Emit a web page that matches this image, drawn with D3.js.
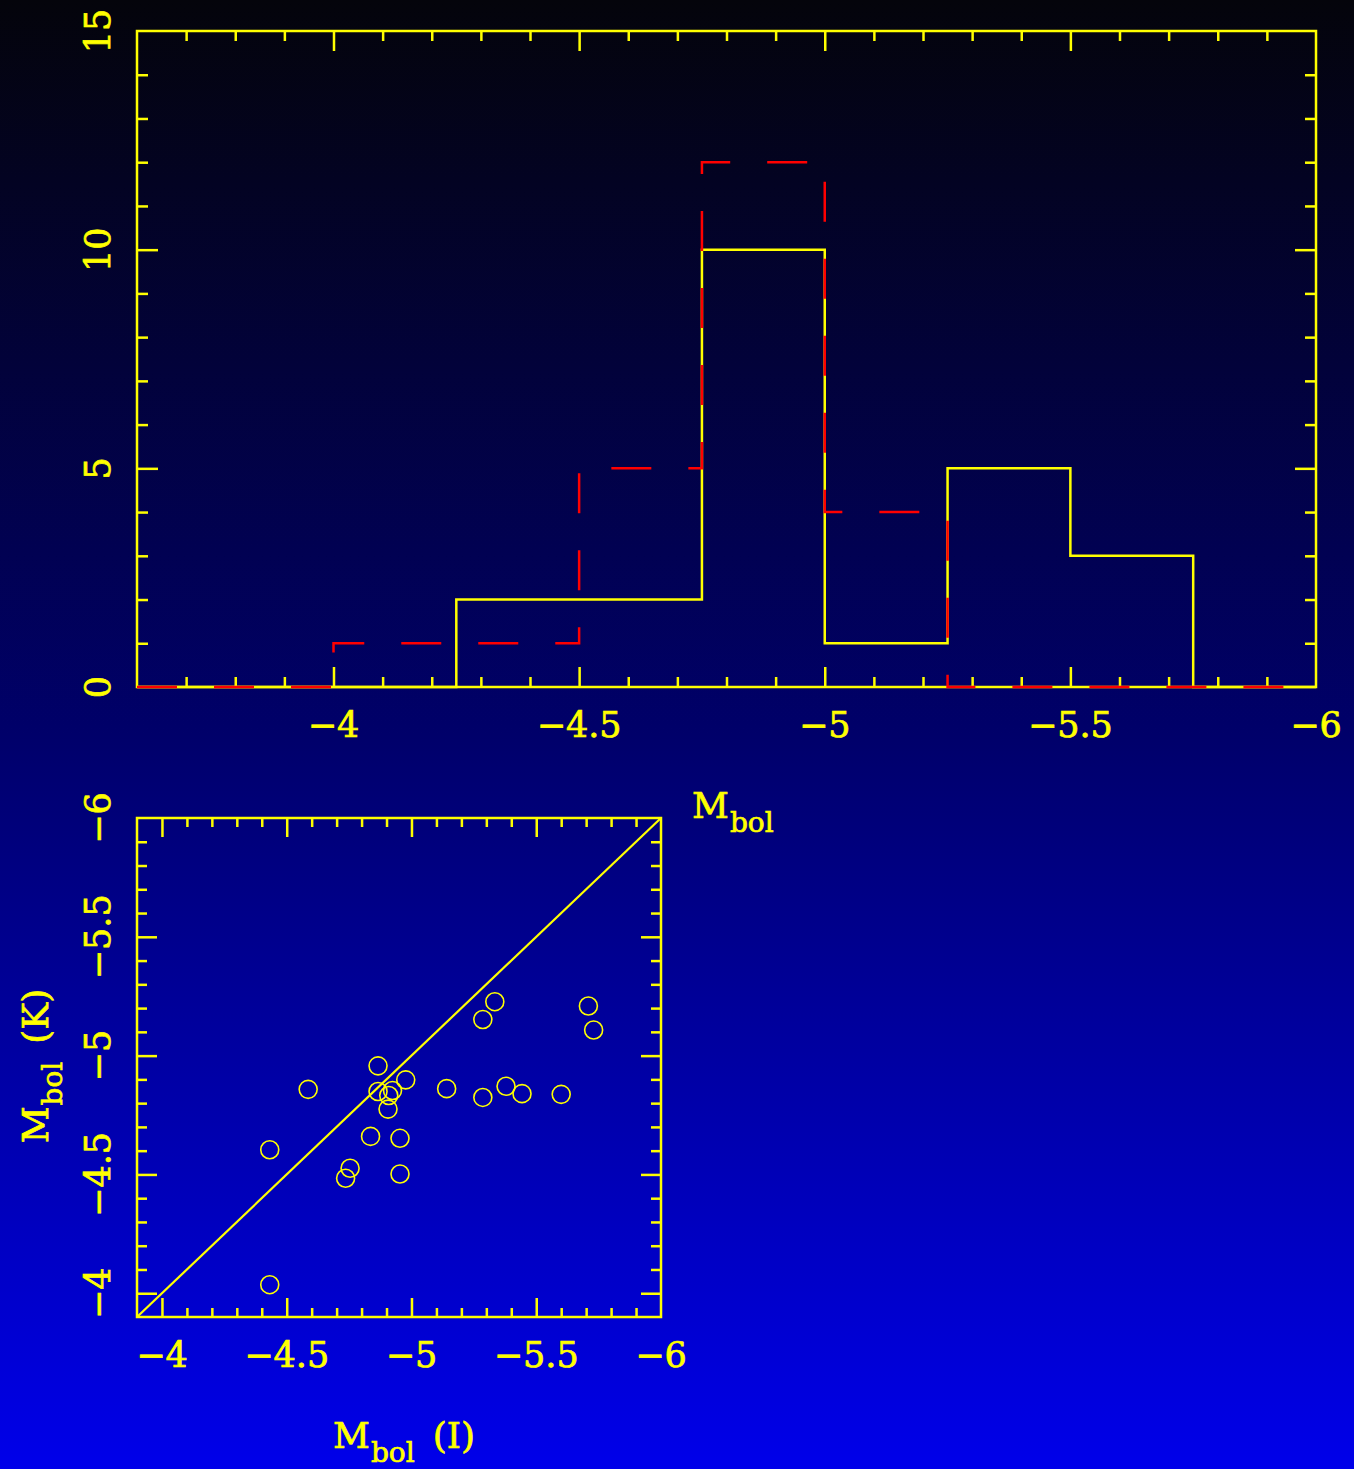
<!DOCTYPE html>
<html>
<head>
<meta charset="utf-8">
<script src="https://cdn.jsdelivr.net/npm/d3@7"></script>
<style>
  html, body { margin: 0; padding: 0; background: #000; }
  svg { display: block; }
  text { font-family: "DejaVu Serif", "Liberation Serif", serif; fill: #ffff00; stroke: #ffff00; stroke-width: 0.7px; }
</style>
</head>
<body>
<svg id="chart" width="1354" height="1469"></svg>
<script>
// Histogram bins (lower edges, width 0.25 mag) of bolometric magnitude
const binLow = [-3.5, -3.75, -4.0, -4.25, -4.5, -4.75, -5.0, -5.25, -5.5, -5.75];
const binWidth = -0.25;
const countsI = [0, 0, 0, 2, 2, 10, 1, 5, 3, 0];   // from I band (solid)
const countsK = [0, 0, 1, 1, 5, 12, 4, 0, 0, 0];   // from K band (dashed)

// Per-star bolometric magnitudes: I-band estimate vs K-band estimate
const mbolI = [-5.334, -5.709, -5.286, -5.730, -4.866, -4.977, -4.586, -5.141,
               -4.866, -4.924, -4.909, -5.286, -5.379, -5.443, -5.600, -4.906,
               -4.836, -4.954, -4.432, -4.754, -4.736, -4.954, -4.432];
const mbolK = [-5.227, -5.209, -5.152, -5.108, -4.957, -4.898, -4.858, -4.861,
               -4.849, -4.853, -4.832, -4.824, -4.871, -4.840, -4.837, -4.775,
               -4.660, -4.652, -4.604, -4.526, -4.484, -4.502, -4.036];

// Axis ranges and tick labels
const histXDomain = [-3.6, -6.0];
const histYDomain = [0, 15];
const histXLabels = [-4, -4.5, -5, -5.5, -6];
const histYLabels = [0, 5, 10, 15];
const scatDomain = [-3.9, -6.0];
const scatLabels = [-4, -4.5, -5, -5.5, -6];

const YEL = "#ffff00", RED = "#ff0000";
const svg = d3.select("#chart");

// background: dark at the top fading to bright blue at the bottom
const defs = svg.append("defs");
const grad = defs.append("linearGradient").attr("id", "bg")
  .attr("x1", 0).attr("y1", 0).attr("x2", 0).attr("y2", 1);
grad.append("stop").attr("offset", "0%").attr("stop-color", "#04040b");
grad.append("stop").attr("offset", "50%").attr("stop-color", "#00006a");
grad.append("stop").attr("offset", "100%").attr("stop-color", "#0000ea");
svg.append("rect").attr("width", 1354).attr("height", 1469).attr("fill", "url(#bg)");

const fmt = d => (d < 0 ? "\u2212" : "") + Math.abs(d);
const isMajor = (d, step) => Math.abs(d / step - Math.round(d / step)) < 1e-6;

function drawTicks(g, axisFn, scale, values, size, pos) {
  const a = g.append("g").attr("transform", pos)
    .call(axisFn(scale).tickValues(values).tickSize(-size).tickFormat(""));
  a.select(".domain").remove();
  a.selectAll("line").attr("stroke", YEL).attr("stroke-width", 2.5);
}

function frameWithTicks(x, y, xStep, xMajorStep, yStep, yMajorStep, lens) {
  const g = svg.append("g");
  const [x0, x1] = x.range(), [y0, y1] = y.range();
  const xd = x.domain(), yd = y.domain();
  const xs = d3.range(Math.round(xd[0] / xStep), Math.round(xd[1] / xStep) + Math.sign(xd[1] - xd[0]), Math.sign(xd[1] - xd[0]))
    .map(i => +(i * xStep).toFixed(4))
    .filter(v => (v - xd[0]) * (v - xd[1]) < -1e-9);
  const ys = d3.range(Math.round(yd[0] / yStep), Math.round(yd[1] / yStep) + Math.sign(yd[1] - yd[0]), Math.sign(yd[1] - yd[0]))
    .map(i => +(i * yStep).toFixed(4))
    .filter(v => (v - yd[0]) * (v - yd[1]) < -1e-9);
  const xMin = xs.filter(v => !isMajor(v, xMajorStep)), xMaj = xs.filter(v => isMajor(v, xMajorStep));
  const yMin = ys.filter(v => !isMajor(v, yMajorStep)), yMaj = ys.filter(v => isMajor(v, yMajorStep));
  const [xMinL, xMajL, yMinL, yMajL] = lens;
  drawTicks(g, d3.axisBottom, x, xMin, xMinL, `translate(0,${y0})`);
  drawTicks(g, d3.axisBottom, x, xMaj, xMajL, `translate(0,${y0})`);
  drawTicks(g, d3.axisTop, x, xMin, xMinL, `translate(0,${y1})`);
  drawTicks(g, d3.axisTop, x, xMaj, xMajL, `translate(0,${y1})`);
  drawTicks(g, d3.axisLeft, y, yMin, yMinL, `translate(${x0},0)`);
  drawTicks(g, d3.axisLeft, y, yMaj, yMajL, `translate(${x0},0)`);
  drawTicks(g, d3.axisRight, y, yMin, yMinL, `translate(${x1},0)`);
  drawTicks(g, d3.axisRight, y, yMaj, yMajL, `translate(${x1},0)`);
  g.append("rect").attr("x", x0).attr("y", y1).attr("width", x1 - x0).attr("height", y0 - y1)
    .attr("fill", "none").attr("stroke", YEL).attr("stroke-width", 2.5);
  return g;
}

// ---------- Upper panel: histogram ----------
const hx = d3.scaleLinear().domain(histXDomain).range([137, 1316]).clamp(true);
const hy = d3.scaleLinear().domain(histYDomain).range([687, 31]);

frameWithTicks(hx, hy, 0.1, 0.5, 1, 5, [10, 20, 11, 21]);

function stepPoints(counts) {
  const pts = binLow.map((lo, i) => [lo, counts[i]]);
  pts.push([binLow[binLow.length - 1] + binWidth, counts[counts.length - 1]]);
  return pts;
}
const step = d3.line().x(d => hx(d[0])).y(d => hy(d[1])).curve(d3.curveStepAfter);

svg.append("path").attr("d", step(stepPoints(countsI)))
  .attr("fill", "none").attr("stroke", YEL).attr("stroke-width", 2.5);
svg.append("path").attr("d", step(stepPoints(countsK)))
  .attr("fill", "none").attr("stroke", RED).attr("stroke-width", 2.5)
  .attr("stroke-dasharray", "40,37");

svg.append("g").selectAll("text").data(histXLabels).join("text")
  .attr("x", d => hx(d)).attr("y", 737).attr("text-anchor", "middle")
  .attr("font-size", 35).text(fmt);
svg.append("g").selectAll("text").data(histYLabels).join("text")
  .attr("transform", d => `translate(110,${hy(d)}) rotate(-90)`)
  .attr("text-anchor", "middle").attr("font-size", 35).text(d => d);

// axis label of the histogram
const lblTop = svg.append("text").attr("x", 692).attr("y", 818).attr("font-size", 36);
lblTop.append("tspan").text("M");
lblTop.append("tspan").attr("font-size", 28).attr("dy", 14).attr("dx", 1).text("bol");

// ---------- Lower panel: I vs K ----------
const sx = d3.scaleLinear().domain(scatDomain).range([137, 661]);
const sy = d3.scaleLinear().domain(scatDomain).range([1317, 818]);

frameWithTicks(sx, sy, 0.1, 0.5, 0.1, 0.5, [9, 19, 10, 20]);

// one-to-one line
svg.append("path")
  .attr("d", d3.line().x(d => sx(d)).y(d => sy(d))(scatDomain))
  .attr("fill", "none").attr("stroke", YEL).attr("stroke-width", 2.2);

svg.append("g").selectAll("circle").data(mbolI.map((v, i) => [v, mbolK[i]])).join("circle")
  .attr("cx", d => sx(d[0])).attr("cy", d => sy(d[1])).attr("r", 9)
  .attr("fill", "none").attr("stroke", YEL).attr("stroke-width", 1.6);

svg.append("g").selectAll("text").data(scatLabels).join("text")
  .attr("x", d => sx(d)).attr("y", 1367).attr("text-anchor", "middle")
  .attr("font-size", 35).text(fmt);
svg.append("g").selectAll("text").data(scatLabels).join("text")
  .attr("transform", d => `translate(110,${sy(d)}) rotate(-90)`)
  .attr("text-anchor", "middle").attr("font-size", 35).text(fmt);

const lblX = svg.append("text").attr("x", 404).attr("y", 1448)
  .attr("text-anchor", "middle").attr("font-size", 36);
lblX.append("tspan").text("M");
lblX.append("tspan").attr("font-size", 28).attr("dy", 14).attr("dx", 1).text("bol");
lblX.append("tspan").attr("dy", -14).attr("dx", 18).text("(I)");

const lblY = svg.append("text").attr("transform", "translate(48,1066) rotate(-90)")
  .attr("text-anchor", "middle").attr("font-size", 36);
lblY.append("tspan").text("M");
lblY.append("tspan").attr("font-size", 28).attr("dy", 14).attr("dx", 1).text("bol");
lblY.append("tspan").attr("dy", -14).attr("dx", 18).text("(K)");
</script>
</body>
</html>
